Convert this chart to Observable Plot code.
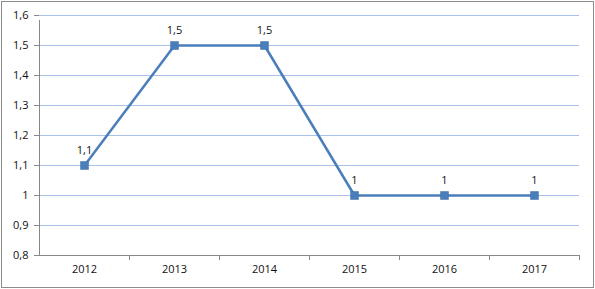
<!DOCTYPE html>
<html>
<head>
<meta charset="utf-8">
<script src="https://cdn.jsdelivr.net/npm/d3@7"></script>
<script src="https://cdn.jsdelivr.net/npm/@observablehq/plot@0.6"></script>
<style>
  body { margin: 0; background: #fff; }
  #chart svg { display: block; outline: 1px solid #8c8c8c; outline-offset: -2px; }
</style>
</head>
<body>
<div id="chart"></div>
<script>
const years = ["2012", "2013", "2014", "2015", "2016", "2017"];
const values = [1.1, 1.5, 1.5, 1, 1, 1];
const yTicks = [0.8, 0.9, 1.0, 1.1, 1.2, 1.3, 1.4, 1.5, 1.6];

const data = years.map((y, i) => ({year: y, value: values[i]}));
const fmt = d => String(+d.toFixed(1)).replace(".", ",");

const chart = Plot.plot({
  width: 595,
  height: 289,
  marginLeft: 39,
  marginRight: 16,
  marginTop: 15,
  marginBottom: 34,
  style: {fontFamily: "'Open Sans', 'Liberation Sans', sans-serif", fontSize: "11px", color: "#111", background: "#fff"},
  x: {type: "band", domain: years, padding: 0, label: null},
  y: {domain: [0.8, 1.6], label: null},
  marks: [
    Plot.gridY(yTicks.filter(t => t > 0.8), {stroke: "#8fabdf", strokeOpacity: 0.75, strokeWidth: 1}),
    Plot.ruleY([0.8], {stroke: "#888", strokeWidth: 1}),
    // left value-axis line, extending slightly below the category axis
    Plot.ruleX([years[0]], {x: d => d, dx: -45, y1: 0.8, y2: 1.6, insetBottom: -5, stroke: "#888"}),
    // category tick marks at band boundaries
    Plot.ruleX(years, {x: d => d, dx: 45, y1: 0.8, y2: 0.8, insetBottom: -5, stroke: "#888"}),
    Plot.axisY({ticks: yTicks, tickFormat: fmt, tickSize: 5, stroke: "#888", tickPadding: 6, fontSize: 11}),
    Plot.axisX({tickSize: 0, tickPadding: 10, fontSize: 11}),
    Plot.line(data, {x: "year", y: "value", stroke: "#4a7ebb", strokeWidth: 2.5}),
    Plot.dot(data, {x: "year", y: "value", symbol: "square", r: 4.5, fill: "#4a7ebb", stroke: "#3f6fa8", strokeWidth: 0.5}),
    Plot.text(data, {x: "year", y: "value", text: d => fmt(d.value), dy: -15, fontSize: 11, fill: "#111"})
  ]
});
document.getElementById("chart").appendChild(chart);
</script>
</body>
</html>
